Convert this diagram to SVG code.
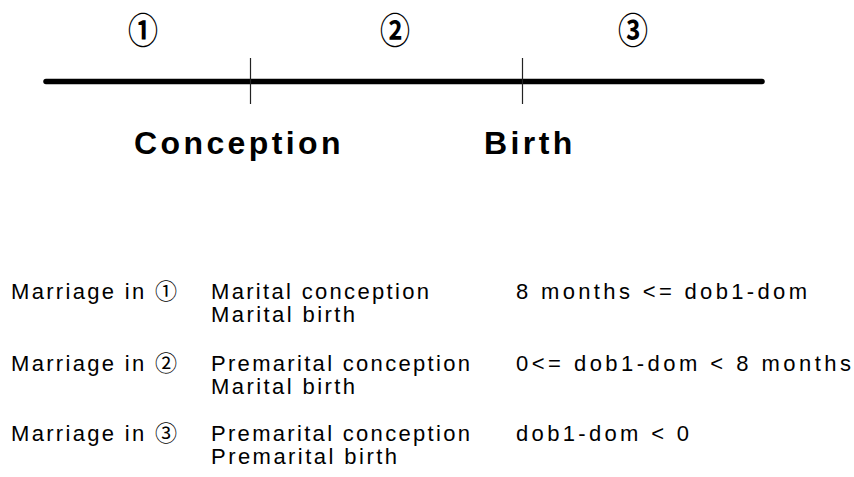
<svg xmlns="http://www.w3.org/2000/svg" width="854" height="477" viewBox="0 0 854 477">
<style>
.axis{stroke:#000;stroke-width:5.5;stroke-linecap:round;fill:none}
.tick{stroke:#222;stroke-width:1.2;fill:none}
.circ{font-family:"Noto Sans CJK JP","DejaVu Sans",sans-serif;font-size:30px;font-weight:bold;fill:#000;text-anchor:middle}
.ev{font-family:"Liberation Sans",Arial,sans-serif;font-weight:bold;font-size:32px;letter-spacing:3.4px;fill:#000}
.t{font-family:"Liberation Sans",Arial,sans-serif;font-size:22px;fill:#000}
.c{font-family:"Noto Sans CJK JP","DejaVu Sans",sans-serif}
</style>
<rect width="854" height="477" fill="#fff"/>
<g id="connectors">
<line class="axis" x1="46" y1="81.5" x2="762" y2="81.5"/>
<line class="tick" x1="250.5" y1="58" x2="250.5" y2="104"/>
<line class="tick" x1="522.5" y1="58" x2="522.5" y2="104"/>
</g>
<g id="period1"><text class="circ" transform="translate(143,44) scale(1,1.2)">①</text></g>
<g id="period2"><text class="circ" transform="translate(395,44) scale(1,1.2)">②</text></g>
<g id="period3"><text class="circ" transform="translate(633,44) scale(1,1.2)">③</text></g>
<g id="conception"><text class="ev" x="134" y="154">Conception</text></g>
<g id="birth"><text class="ev" x="484" y="154">Birth</text></g>
<g id="row1">
<text class="t" x="11" y="299" textLength="166" lengthAdjust="spacing">Marriage in <tspan class="c">①</tspan></text>
<text class="t" x="211" y="299" textLength="218" lengthAdjust="spacing">Marital conception</text>
<text class="t" x="211" y="322" textLength="144" lengthAdjust="spacing">Marital birth</text>
<text class="t" x="516" y="299" textLength="291" lengthAdjust="spacing">8 months &lt;= dob1-dom</text>
</g>
<g id="row2">
<text class="t" x="11" y="371" textLength="166" lengthAdjust="spacing">Marriage in <tspan class="c">②</tspan></text>
<text class="t" x="211" y="371" textLength="259" lengthAdjust="spacing">Premarital conception</text>
<text class="t" x="211" y="394" textLength="144" lengthAdjust="spacing">Marital birth</text>
<text class="t" x="516" y="371" textLength="335" lengthAdjust="spacing">0&lt;= dob1-dom &lt; 8 months</text>
</g>
<g id="row3">
<text class="t" x="11" y="441" textLength="166" lengthAdjust="spacing">Marriage in <tspan class="c">③</tspan></text>
<text class="t" x="211" y="441" textLength="259" lengthAdjust="spacing">Premarital conception</text>
<text class="t" x="211" y="464" textLength="186" lengthAdjust="spacing">Premarital birth</text>
<text class="t" x="516" y="441" textLength="173" lengthAdjust="spacing">dob1-dom &lt; 0</text>
</g>
</svg>
